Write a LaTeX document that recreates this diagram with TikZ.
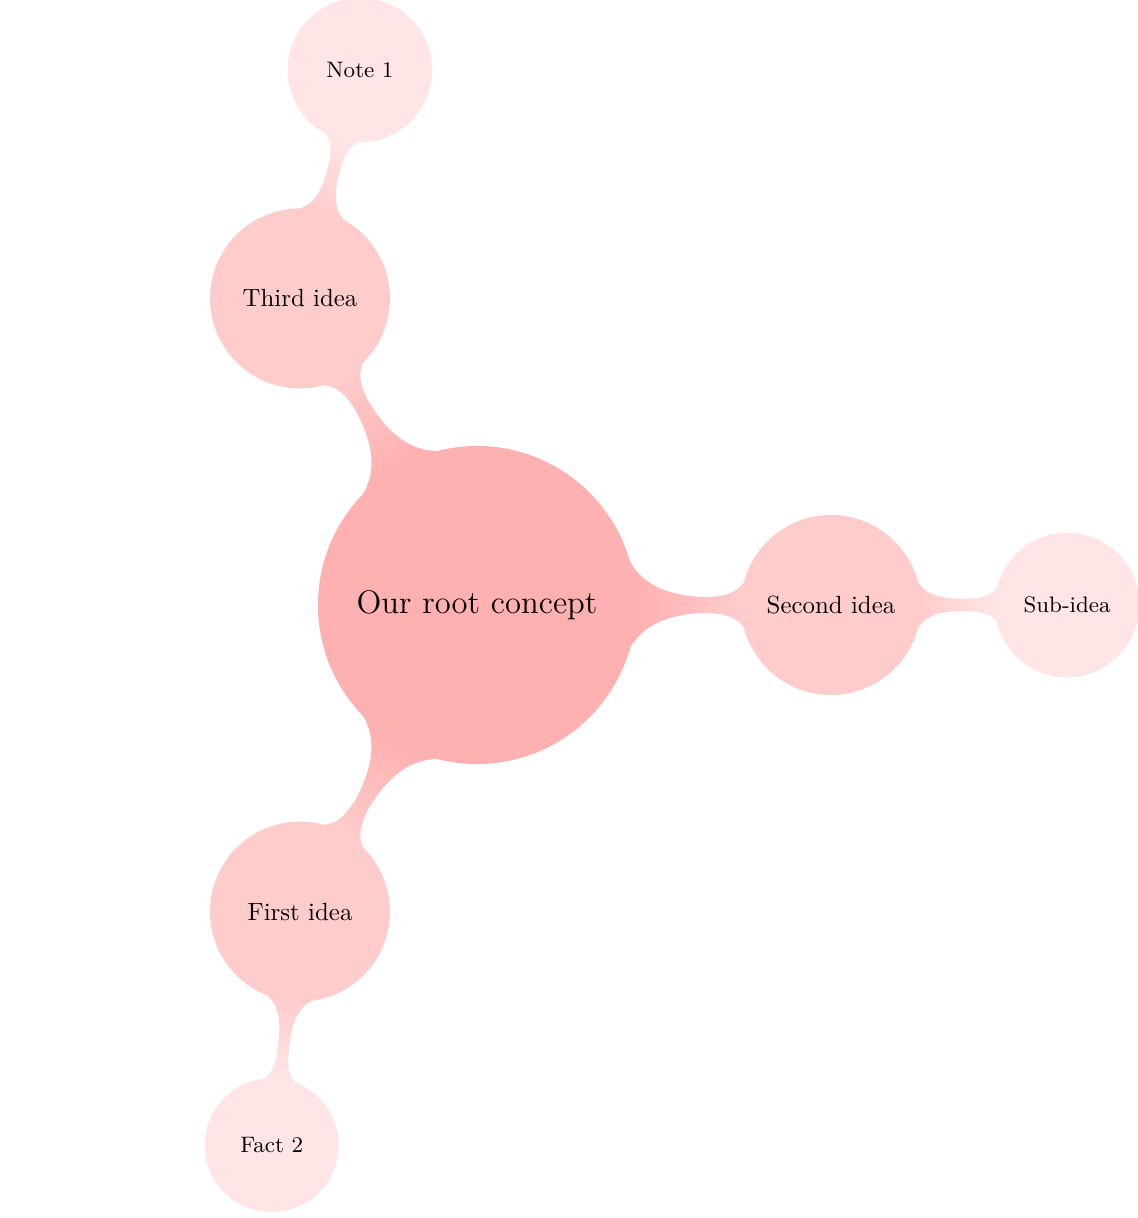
\documentclass[tikz,border=0pt]{standalone}
\usetikzlibrary{mindmap}

\begin{document}
\begin{tikzpicture}[
        mindmap,
        concept color=red!30,
        rootnode/.style = {concept, concept color=red!31, minimum size=4.45cm, text width=4cm, font=\fontsize{13.1}{15}\selectfont},
        ideanode/.style = {concept, concept color=red!20, minimum size=2.5cm, text width=2.2cm, font=\normalsize},
        subnode/.style = {concept, concept color=red!10, minimum size=2cm, text width=1.7cm, font=\small}
    ]

    \useasboundingbox (-6.737,-8.658) rectangle (9.322,8.545);

    % the root and its three ideas
    \node[rootnode] (root) at (0,0) {Our root concept};
    \node[ideanode] (second) at (0:5) {Second idea};
    \node[ideanode] (third) at (120:5) {Third idea};
    \node[ideanode] (first) at (240:5) {First idea};

    % one more level
    \node[subnode] (sub) at (8.335,0) {Sub-idea};
    \node[subnode] (note) at (-1.653,7.556) {Note 1};
    \node[subnode, minimum size=1.85cm] (fact) at (-2.9,-7.63) {Fact 2};

    \path (root) to[circle connection bar switch color=from (red!31) to (red!20)] (second);
    \path (root) to[circle connection bar switch color=from (red!31) to (red!20)] (third);
    \path (root) to[circle connection bar switch color=from (red!31) to (red!20)] (first);
    \path (second) to[circle connection bar switch color=from (red!20) to (red!10)] (sub);
    \path (third) to[circle connection bar switch color=from (red!20) to (red!10)] (note);
    \path (first) to[circle connection bar switch color=from (red!20) to (red!10)] (fact);

\end{tikzpicture}
\end{document}
